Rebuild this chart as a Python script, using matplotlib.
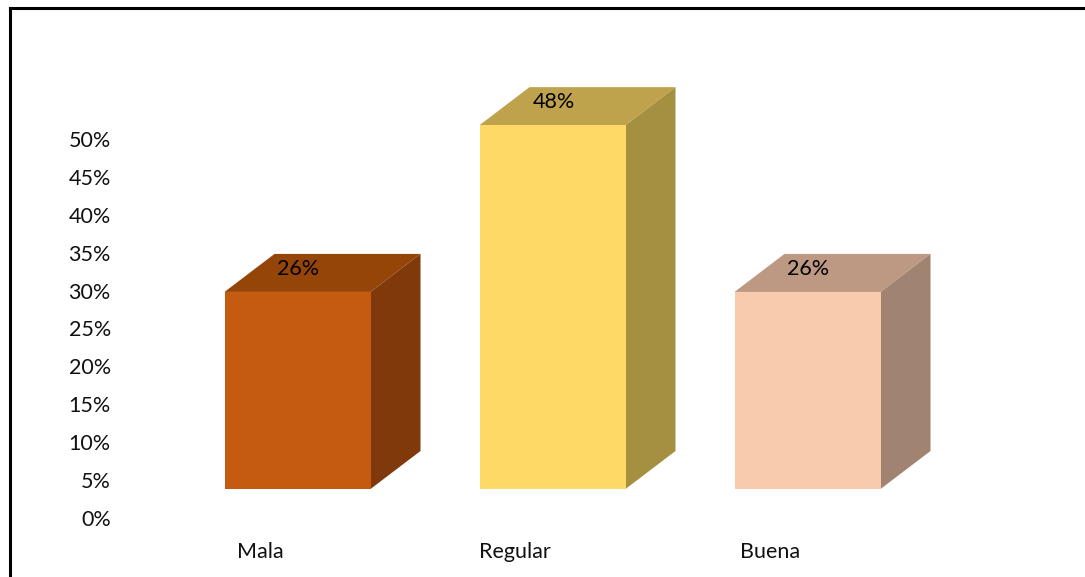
import numpy as np
import matplotlib
matplotlib.use('Agg')
import matplotlib.pyplot as plt
from matplotlib.lines import Line2D
from matplotlib.patches import Polygon

plt.rcParams['font.family'] = ['Lato', 'DejaVu Sans']

categories = ['Mala', 'Regular', 'Buena']
values = [26, 48, 26]
y_ticks = [0, 5, 10, 15, 20, 25, 30, 35, 40, 45, 50]

front_colors = ['#C55A11', '#FFD966', '#F8CBAD']
top_colors = ['#964509', '#BFA34C', '#BD9983']
side_colors = ['#80390A', '#A58F40', '#A18371']

W, H = 1085, 577
fig = plt.figure(figsize=(W / 100, H / 100), dpi=100)
ax = fig.add_axes([115 / W, (H - 518) / H, (1070 - 115) / W, (518 - 20) / H])

# scale of the axes, one category = 255 px, one percent = 7.58 px
ax.set_xlim((115 - 297.5) / 255, (1070 - 297.5) / 255)
ax.set_ylim(0, 498 / 7.58)

base = 29 / 7.58
width = 146 / 255
dx = 50 / 255
dy = 38 / 7.58

x = np.arange(len(categories))
ax.bar(x, values, width=width, bottom=base, color=front_colors, zorder=3)

for i, v in enumerate(values):
    l = i - width / 2
    r = i + width / 2
    t = base + v
    ax.add_patch(Polygon([(l, t), (r, t), (r + dx, t + dy), (l + dx, t + dy)],
                         closed=True, fc=top_colors[i], ec='none', zorder=2))
    ax.add_patch(Polygon([(r, base), (r + dx, base + dy), (r + dx, t + dy), (r, t)],
                         closed=True, fc=side_colors[i], ec='none', zorder=2))
    ax.text(i + 1 / 255, t + dy / 2 + 0.55, '%d%%' % v, ha='center', va='center',
            fontsize=15.5, color='black', zorder=4)

ax.set_yticks(y_ticks)
ax.set_yticklabels(['%d%%' % t for t in y_ticks], fontsize=15.5, color='#111111')
ax.set_xticks(x - 37.5 / 255)
ax.set_xticklabels(categories, fontsize=15.5, color='#111111')
ax.tick_params(axis='both', length=0)
ax.tick_params(axis='y', pad=3)
ax.tick_params(axis='x', pad=17)
for s in ax.spines.values():
    s.set_visible(False)
ax.patch.set_alpha(0)

# outer frame, only top and left are in the picture
fig.add_artist(Line2D([9.5 / W, 1], [1 - 8 / H, 1 - 8 / H], color='black', lw=2.2))
fig.add_artist(Line2D([9.5 / W, 9.5 / W], [0, 1 - 8 / H], color='black', lw=2.2))

fig.savefig('out.png', dpi=100)
